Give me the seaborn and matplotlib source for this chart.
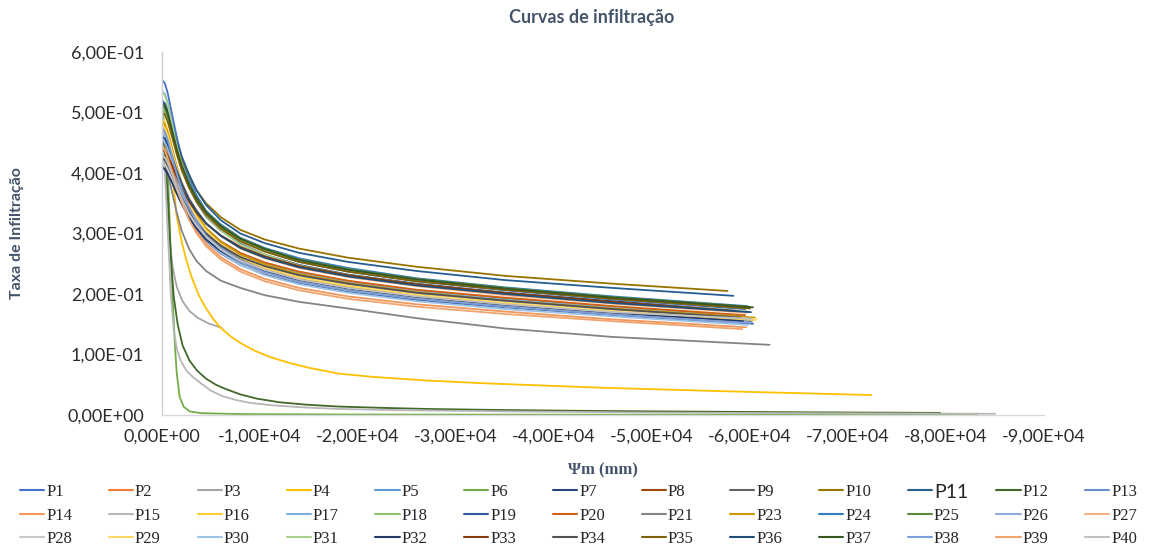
import numpy as np
import pandas as pd
import matplotlib
matplotlib.use("Agg")
import matplotlib.pyplot as plt
import seaborn as sns
from matplotlib.lines import Line2D
from matplotlib.ticker import FuncFormatter

# ---------------- data ----------------
SERIES = ["P1", "P2", "P3", "P4", "P5", "P6", "P7", "P8", "P9", "P10", "P11", "P12", "P13",
          "P14", "P15", "P16", "P17", "P18", "P19", "P20", "P21", "P23", "P24", "P25", "P26", "P27",
          "P28", "P29", "P30", "P31", "P32", "P33", "P34", "P35", "P36", "P37", "P38", "P39", "P40"]

COLORS = ["#4472C4", "#ED7D31", "#A5A5A5", "#FFC000", "#5B9BD5", "#70AD47", "#264478", "#9E480E",
          "#636363", "#997300", "#255E91", "#43682B", "#698ED0", "#F1975A", "#B7B7B7", "#FFCD33",
          "#7CAFDD", "#8CC168", "#335AA1", "#D26012", "#848484", "#CC9A00", "#317DC2", "#5A8A39",
          "#8FAADC", "#F4B183", "#C9C9C9", "#FFD966", "#9DC3E6", "#A9D18E", "#203864", "#843C0C",
          "#525252", "#7F6000", "#1F4E79", "#385723", "#7C9DD6", "#F2A46F", "#C0C0C0"]

# shared suction grid (mm) for the main bundle of curves; the last point of each is END_PSI
PSI_GRID = [0, -300, -600, -1000, -1500, -2000, -2750, -3500, -4500, -6000, -8000, -10500,
            -14000, -19000, -26000, -35000, -46000]

BUNDLE = ["P1", "P2", "P5", "P7", "P8", "P9", "P10", "P11", "P13", "P14", "P16", "P17", "P18",
          "P19", "P20", "P21", "P23", "P24", "P25", "P26", "P27", "P28", "P29", "P30", "P31",
          "P32", "P33", "P34", "P35", "P36", "P37", "P38", "P39", "P40"]
END_PSI = [-59500, -60000, -59800, -58800, -59000, -60000, -57700, -58300, -60200, -59600,
           -60500, -59000, -59600, -60300, -59500, -62000, -60500, -59700, -59900, -60100,
           -59700, -59000, -60700, -59800, -59700, -59300, -58500, -59000, -60000, -60100,
           -60300, -60000, -59200, -60200]

P1 = [0.554, 0.548, 0.531, 0.499, 0.460, 0.427, 0.391, 0.364, 0.337, 0.312, 0.289, 0.271, 0.253, 0.237, 0.221, 0.206, 0.191, 0.175]
P2 = [0.450, 0.445, 0.434, 0.415, 0.389, 0.367, 0.340, 0.320, 0.299, 0.278, 0.258, 0.242, 0.226, 0.212, 0.198, 0.185, 0.171, 0.157]
P5 = [0.535, 0.530, 0.515, 0.486, 0.451, 0.420, 0.387, 0.362, 0.337, 0.313, 0.291, 0.273, 0.255, 0.239, 0.223, 0.208, 0.193, 0.177]
P7 = [0.518, 0.513, 0.499, 0.472, 0.438, 0.409, 0.377, 0.353, 0.328, 0.305, 0.283, 0.265, 0.248, 0.232, 0.217, 0.202, 0.188, 0.172]
P8 = [0.441, 0.437, 0.428, 0.412, 0.389, 0.369, 0.345, 0.326, 0.306, 0.286, 0.267, 0.251, 0.235, 0.221, 0.206, 0.192, 0.179, 0.164]
P9 = [0.425, 0.421, 0.413, 0.398, 0.377, 0.358, 0.335, 0.317, 0.298, 0.278, 0.259, 0.244, 0.228, 0.214, 0.200, 0.187, 0.173, 0.159]
P10 = [0.505, 0.501, 0.490, 0.470, 0.446, 0.424, 0.396, 0.372, 0.350, 0.327, 0.306, 0.290, 0.275, 0.260, 0.245, 0.230, 0.217, 0.205]
P11 = [0.520, 0.515, 0.502, 0.480, 0.452, 0.428, 0.398, 0.372, 0.347, 0.322, 0.300, 0.284, 0.268, 0.253, 0.238, 0.223, 0.210, 0.197]
P13 = [0.470, 0.464, 0.451, 0.428, 0.399, 0.374, 0.344, 0.322, 0.299, 0.277, 0.256, 0.240, 0.224, 0.210, 0.196, 0.182, 0.169, 0.155]
P14 = [0.445, 0.438, 0.425, 0.405, 0.378, 0.355, 0.326, 0.305, 0.283, 0.261, 0.241, 0.225, 0.210, 0.196, 0.183, 0.171, 0.158, 0.145]
P16 = [0.490, 0.484, 0.469, 0.443, 0.411, 0.384, 0.352, 0.329, 0.305, 0.282, 0.260, 0.243, 0.227, 0.213, 0.198, 0.185, 0.171, 0.157]
P17 = [0.460, 0.455, 0.445, 0.425, 0.399, 0.377, 0.350, 0.329, 0.308, 0.287, 0.267, 0.250, 0.235, 0.220, 0.205, 0.191, 0.178, 0.163]
P18 = [0.505, 0.501, 0.489, 0.465, 0.434, 0.408, 0.378, 0.356, 0.333, 0.310, 0.289, 0.272, 0.255, 0.239, 0.223, 0.208, 0.193, 0.177]
P19 = [0.430, 0.424, 0.414, 0.397, 0.374, 0.353, 0.328, 0.309, 0.288, 0.267, 0.248, 0.233, 0.218, 0.204, 0.190, 0.178, 0.165, 0.151]
P20 = [0.440, 0.436, 0.428, 0.412, 0.390, 0.370, 0.346, 0.327, 0.308, 0.287, 0.268, 0.252, 0.237, 0.222, 0.207, 0.194, 0.180, 0.165]
P21 = [0.430, 0.420, 0.400, 0.370, 0.335, 0.305, 0.275, 0.255, 0.238, 0.222, 0.210, 0.198, 0.187, 0.176, 0.160, 0.143, 0.129, 0.116]
P23 = [0.485, 0.479, 0.466, 0.442, 0.411, 0.385, 0.355, 0.332, 0.309, 0.286, 0.265, 0.249, 0.233, 0.218, 0.203, 0.189, 0.176, 0.161]
P24 = [0.510, 0.507, 0.494, 0.470, 0.439, 0.412, 0.383, 0.360, 0.337, 0.315, 0.293, 0.276, 0.259, 0.243, 0.226, 0.211, 0.196, 0.180]
P25 = [0.511, 0.507, 0.495, 0.470, 0.439, 0.412, 0.382, 0.359, 0.336, 0.313, 0.292, 0.275, 0.257, 0.241, 0.225, 0.210, 0.195, 0.179]
P26 = [0.455, 0.450, 0.439, 0.419, 0.393, 0.371, 0.344, 0.323, 0.302, 0.281, 0.261, 0.245, 0.229, 0.215, 0.200, 0.187, 0.173, 0.159]
P27 = [0.470, 0.466, 0.456, 0.435, 0.409, 0.386, 0.359, 0.339, 0.317, 0.296, 0.275, 0.259, 0.243, 0.228, 0.213, 0.198, 0.184, 0.169]
P28 = [0.420, 0.415, 0.406, 0.391, 0.370, 0.351, 0.327, 0.309, 0.289, 0.269, 0.250, 0.235, 0.220, 0.206, 0.193, 0.180, 0.167, 0.153]
P29 = [0.480, 0.474, 0.461, 0.437, 0.406, 0.381, 0.350, 0.328, 0.305, 0.282, 0.261, 0.244, 0.228, 0.214, 0.199, 0.186, 0.172, 0.158]
P30 = [0.465, 0.458, 0.444, 0.421, 0.392, 0.366, 0.336, 0.314, 0.291, 0.268, 0.248, 0.231, 0.216, 0.202, 0.188, 0.175, 0.163, 0.149]
P31 = [0.534, 0.528, 0.513, 0.482, 0.446, 0.415, 0.380, 0.355, 0.329, 0.305, 0.282, 0.265, 0.247, 0.231, 0.216, 0.201, 0.186, 0.171]
P32 = [0.410, 0.406, 0.398, 0.385, 0.366, 0.349, 0.326, 0.309, 0.290, 0.271, 0.252, 0.237, 0.223, 0.209, 0.195, 0.182, 0.169, 0.155]
P33 = [0.438, 0.436, 0.428, 0.414, 0.394, 0.375, 0.353, 0.335, 0.316, 0.297, 0.278, 0.262, 0.246, 0.231, 0.216, 0.202, 0.187, 0.172]
P34 = [0.425, 0.421, 0.413, 0.399, 0.378, 0.360, 0.337, 0.319, 0.300, 0.280, 0.261, 0.246, 0.231, 0.217, 0.202, 0.189, 0.175, 0.161]
P35 = [0.500, 0.496, 0.484, 0.461, 0.431, 0.405, 0.376, 0.354, 0.331, 0.308, 0.287, 0.270, 0.253, 0.237, 0.221, 0.207, 0.192, 0.176]
P36 = [0.460, 0.457, 0.447, 0.429, 0.404, 0.383, 0.357, 0.338, 0.317, 0.296, 0.276, 0.260, 0.244, 0.229, 0.214, 0.200, 0.185, 0.170]
P37 = [0.515, 0.511, 0.498, 0.473, 0.440, 0.413, 0.382, 0.359, 0.335, 0.312, 0.291, 0.274, 0.256, 0.240, 0.224, 0.209, 0.194, 0.178]
P38 = [0.475, 0.468, 0.454, 0.430, 0.399, 0.373, 0.343, 0.320, 0.296, 0.273, 0.252, 0.236, 0.220, 0.206, 0.192, 0.179, 0.166, 0.152]
P39 = [0.445, 0.437, 0.424, 0.403, 0.375, 0.352, 0.323, 0.301, 0.279, 0.257, 0.237, 0.221, 0.206, 0.192, 0.179, 0.167, 0.155, 0.142]
P40 = [0.430, 0.425, 0.416, 0.400, 0.377, 0.358, 0.333, 0.314, 0.295, 0.274, 0.255, 0.240, 0.224, 0.210, 0.196, 0.183, 0.170, 0.159]

# curves with their own suction points
P3_PSI = [0, -200, -400, -600, -800, -1100, -1500, -2100, -2800, -3600, -4800, -6100]
P3 = [0.450, 0.435, 0.390, 0.330, 0.285, 0.243, 0.212, 0.188, 0.172, 0.161, 0.151, 0.144]

P4_PSI = [0, -300, -600, -1000, -1500, -2000, -2500, -3000, -3750, -4500, -5250, -6000, -7000,
          -8000, -9500, -11000, -13000, -15000, -18000, -21500, -27000, -33500, -45000, -58000,
          -72400]
P4 = [0.480, 0.472, 0.452, 0.405, 0.328, 0.287, 0.255, 0.229, 0.198, 0.176, 0.158, 0.144, 0.130,
      0.119, 0.106, 0.096, 0.086, 0.078, 0.0685, 0.063, 0.057, 0.052, 0.045, 0.039, 0.033]

P6_PSI = [0, -300, -600, -850, -1100, -1300, -1500, -1800, -2200, -2800, -4000, -8000, -20000,
          -50000, -83200]
P6 = [0.500, 0.480, 0.400, 0.290, 0.190, 0.120, 0.070, 0.030, 0.014, 0.006, 0.003, 0.0015,
      0.0008, 0.0004, 0.0003]

P12_PSI = [0, -300, -600, -900, -1200, -1600, -2100, -2800, -3600, -4500, -5500, -6500, -8000,
           -9700, -12000, -14800, -18000, -22000, -27000, -33500, -42000, -50000, -65000, -79400]
P12 = [0.460, 0.435, 0.360, 0.260, 0.195, 0.150, 0.115, 0.090, 0.073, 0.060, 0.050, 0.043, 0.034,
       0.027, 0.021, 0.017, 0.014, 0.012, 0.010, 0.0085, 0.007, 0.006, 0.0045, 0.0035]

P15_PSI = [0, -300, -600, -900, -1200, -1500, -1900, -2500, -3200, -4000, -5000, -6200, -7500,
           -9000, -11300, -14000, -18000, -24000, -35000, -50000, -65000, -85000]
P15 = [0.440, 0.400, 0.300, 0.200, 0.140, 0.110, 0.090, 0.073, 0.062, 0.052, 0.040, 0.031, 0.025,
       0.020, 0.016, 0.013, 0.010, 0.008, 0.006, 0.004, 0.003, 0.002]

X_TICKS = [0, -10000, -20000, -30000, -40000, -50000, -60000, -70000, -80000, -90000]
Y_TICKS = [0.0, 0.1, 0.2, 0.3, 0.4, 0.5, 0.6]

TITLE = "Curvas de infiltração"
YLABEL = "Taxa de Infiltração"
XLABEL = "Ψm (mm)"

# ---------------- assemble long table ----------------
values = dict(P1=P1, P2=P2, P5=P5, P7=P7, P8=P8, P9=P9, P10=P10, P11=P11, P13=P13, P14=P14,
              P16=P16, P17=P17, P18=P18, P19=P19, P20=P20, P21=P21, P23=P23, P24=P24, P25=P25,
              P26=P26, P27=P27, P28=P28, P29=P29, P30=P30, P31=P31, P32=P32, P33=P33, P34=P34,
              P35=P35, P36=P36, P37=P37, P38=P38, P39=P39, P40=P40)
special = {"P3": (P3_PSI, P3), "P4": (P4_PSI, P4), "P6": (P6_PSI, P6),
           "P12": (P12_PSI, P12), "P15": (P15_PSI, P15)}

frames = []
for name in SERIES:
    if name in special:
        xs, ys = special[name]
    else:
        xs = PSI_GRID + [END_PSI[BUNDLE.index(name)]]
        ys = values[name]
    frames.append(pd.DataFrame({"psi": xs, "taxa": ys, "serie": name}))
df = pd.concat(frames, ignore_index=True)

# ---------------- plot ----------------
sns.set_theme(style="white")
plt.rcParams["font.family"] = ["Lato", "DejaVu Sans"]

W, H = 1157, 547
fig = plt.figure(figsize=(W / 100, H / 100), dpi=100)
ax = fig.add_axes([162 / W, 1 - 415 / H, (1044 - 162) / W, (415 - 52) / H])

sns.lineplot(data=df, x="psi", y="taxa", hue="serie", hue_order=SERIES,
             palette=COLORS, sort=False, estimator=None, linewidth=1.3,
             legend=False, ax=ax)

ax.set_xlim(0, -90000)
ax.set_ylim(0, 0.6)
ax.set_xticks(X_TICKS)
ax.set_yticks(Y_TICKS)
fmt = FuncFormatter(lambda v, _: f"{v:.2E}".replace(".", ","))
ax.xaxis.set_major_formatter(fmt)
ax.yaxis.set_major_formatter(fmt)
ax.tick_params(axis="both", length=0, labelsize=13, labelcolor="#2B2B2B")
ax.tick_params(axis="x", pad=10)
ax.tick_params(axis="y", pad=13)
ax.set_xlabel("")
ax.set_ylabel("")
ax.grid(False)
for s in ["top", "right"]:
    ax.spines[s].set_visible(False)
ax.spines["left"].set_color("#C8D0DA")
ax.spines["bottom"].set_color("#D9D9D9")
ax.spines["left"].set_linewidth(1.0)
ax.spines["bottom"].set_linewidth(1.0)

fig.text(592 / W, 1 - 18 / H, TITLE, ha="center", va="center", fontsize=13,
         fontweight="bold", color="#44546A")
fig.text(17 / W, 1 - 233 / H, YLABEL, ha="center", va="center", rotation=90,
         fontsize=11.5, fontweight="bold", color="#44546A")
fig.text(603 / W, 1 - 470 / H, XLABEL, ha="center", va="center", fontsize=12,
         fontweight="bold", color="#44546A", family=["Liberation Serif", "DejaVu Serif"])

# legend: 13 columns, filled row by row
handles = [Line2D([], [], color=c, lw=1.5) for c in COLORS]
ncol, nrow = 13, 3
order = [r * ncol + c for c in range(ncol) for r in range(nrow)]
leg = fig.legend([handles[i] for i in order], [SERIES[i] for i in order],
                 ncol=ncol, loc="upper left", bbox_to_anchor=(20 / W, 1 - 484 / H),
                 frameon=False, prop={"family": "Liberation Serif", "size": 12},
                 handlelength=1.45, handletextpad=0.12, columnspacing=2.2,
                 labelspacing=0.45, borderpad=0, borderaxespad=0)
for t in leg.get_texts():
    t.set_color("#262626")

# the P11 entry is written in a larger sans-serif face in the original; keep the legend
# layout uniform and put that label in place of the (hidden) serif one
fig.canvas.draw()
for t in leg.get_texts():
    if t.get_text() == "P11":
        bb = t.get_window_extent()
        t.set_visible(False)
        fig.text(bb.x0 / fig.bbox.width, (bb.y0 + bb.y1) / 2 / fig.bbox.height, "P11",
                 ha="left", va="center", fontsize=14, color="#262626",
                 family=["Lato", "DejaVu Sans"])

fig.savefig("out.png", dpi=100)
